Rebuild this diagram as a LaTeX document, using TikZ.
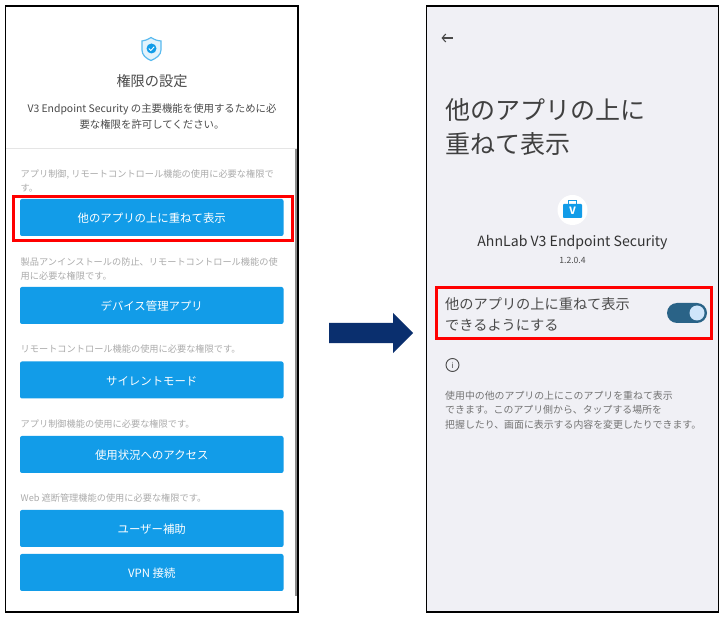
\documentclass[tikz,border=0pt]{standalone}
\usepackage{fontspec}
\setmainfont{Noto Sans CJK JP}
\usetikzlibrary{arrows.meta,shapes.arrows}
\definecolor{btn_blue}{HTML}{129CE8}
\definecolor{grey_text}{HTML}{ABABAB}
\definecolor{dark_text}{HTML}{4A4A4A}
\definecolor{panel_grey}{HTML}{F0F0F5}
\definecolor{navy_arrow}{HTML}{0A2F6E}
\definecolor{toggle_track}{HTML}{2A6387}
\definecolor{toggle_knob}{HTML}{CFE5FA}
\newcommand{\fsize}[1]{\fontsize{#1}{#1}\selectfont}

\begin{document}
\begin{tikzpicture}[x=1pt, y=-1pt]
    \tikzstyle{panel_style} = [draw=black, line width=1.1pt]
    \tikzstyle{red_box} = [draw=red, line width=3pt]
    \tikzstyle{btn_style} = [rectangle, rounded corners=2pt, fill=btn_blue, text=white, minimum width=263.5pt, minimum height=37pt, inner sep=0pt, text height=11pt, text depth=0.4pt, font=\fsize{11.4}]
    \tikzstyle{hint_style} = [anchor=west, inner sep=0pt, align=left, text=grey_text, font=\fontsize{9.2}{14}\selectfont]
    \tikzstyle{body_style} = [anchor=west, inner sep=0pt, align=left, text=dark_text]

    \useasboundingbox (0,0) rectangle (724,617);
    \fill[white] (0,0) rectangle (724,617);

    % left screen
    \fill[white] (5.5,6) rectangle (298,612);
    \draw[black!10, line width=0.7pt] (6,148) -- (297,148);
    \fill[black!45] (294.5,149) rectangle (297.5,596);
    \draw[panel_style] (5.5,6) rectangle (298,612);

    % shield
    \draw[fill=btn_blue!12, draw=btn_blue!70, line width=1.2pt] (151,37.5) .. controls (147,40) and (145,40.5) .. (142,41) -- (142,50) .. controls (142,55) and (146,58.5) .. (151,60.5) .. controls (156,58.5) and (161,55) .. (161,50) -- (161,41) .. controls (157,40.5) and (155,40) .. (151,37.5) -- cycle;
    \node[circle, fill=btn_blue, minimum size=10pt, inner sep=0pt] (shield_dot) at (151.5,48.5) {};
    \draw[white, line width=0.9pt] (148.8,48.5) -- (150.8,50.5) -- (154.2,46.8);

    \node[text=dark_text, inner sep=0pt, font=\fsize{14.2}] (title_left) at (152,81.5) {権限の設定};
    \node[text=dark_text, inner sep=0pt, align=center, font=\fontsize{10.4}{16}\selectfont] (intro) at (152,116.5) {V3 Endpoint Security の主要機能を使用するために必\\要な権限を許可してください。};

    \node[hint_style] (hint1) at (20.5,181) {アプリ制御, リモートコントロール機能の使用に必要な権限で\\す。};
    \node[btn_style] (btn1) at (151.75,217.5) {他のアプリの上に重ねて表示};
    \node[hint_style] (hint2) at (20.5,269) {製品アンインストールの防止、リモートコントロール機能の使\\用に必要な権限です。};
    \node[btn_style] (btn2) at (151.75,305.5) {デバイス管理アプリ};
    \node[hint_style] (hint3) at (20.5,349) {リモートコントロール機能の使用に必要な権限です。};
    \node[btn_style] (btn3) at (151.75,380) {サイレントモード};
    \node[hint_style] (hint4) at (20.5,424) {アプリ制御機能の使用に必要な権限です。};
    \node[btn_style] (btn4) at (151.75,454.5) {使用状況へのアクセス};
    \node[hint_style] (hint5) at (20.5,498) {Web 遮断管理機能の使用に必要な権限です。};
    \node[btn_style] (btn5) at (151.75,528.5) {ユーザー補助};
    \node[btn_style] (btn6) at (151.75,572.5) {VPN 接続};

    \draw[red_box] (13.5,197) rectangle (292,240.5);

    % arrow between the screens
    \node[single arrow, fill=navy_arrow, minimum height=84pt, inner xsep=0pt, inner ysep=10pt, single arrow head extend=10pt, single arrow tip angle=90, anchor=tail] (next_arrow) at (329,333) {};

    % right screen
    \fill[panel_grey] (426.5,6) rectangle (718.5,612);
    \draw[panel_style] (426.5,6) rectangle (718.5,612);

    \draw[dark_text, line width=1.1pt, -{Straight Barb[length=3.5pt, width=8pt]}] (452.5,38) -- (441.5,38);

    \node[body_style, font=\fontsize{25}{34}\selectfont, text=black!75] (title_right) at (445,127.5) {他のアプリの上に\\重ねて表示};

    \node[circle, fill=white, minimum size=30pt, inner sep=0pt] (app_disc) at (572.5,210) {};
    \fill[btn_blue, rounded corners=0.8pt] (563,204) rectangle (582,218);
    \draw[btn_blue, line width=1pt] (568.5,204) -- (568.5,201) -- (576.5,201) -- (576.5,204);
    \node[text=white, inner sep=0pt, font=\fsize{10}\bfseries\itshape] (app_mark) at (572.5,211) {V};

    \node[text=black!80, inner sep=0pt, font=\fsize{14.1}] (app_name) at (572.5,243) {AhnLab V3 Endpoint Security};
    \node[text=dark_text, inner sep=0pt, font=\fsize{8.6}] (app_version) at (572.5,260) {1.2.0.4};

    \node[body_style, font=\fontsize{14.2}{21}\selectfont] (toggle_label) at (445,314) {他のアプリの上に重ねて表示\\できるようにする};
    \node[rectangle, rounded corners=10pt, fill=toggle_track, minimum width=40pt, minimum height=20pt, inner sep=0pt] (toggle) at (687,313) {};
    \node[circle, fill=toggle_knob, minimum size=15pt, inner sep=0pt] (knob) at (697,313) {};
    \draw[red_box] (436,287.5) rectangle (711,339);

    \node[circle, draw=dark_text, line width=0.9pt, minimum size=13pt, inner sep=0pt, font=\fsize{8}, text=dark_text] (info) at (452.5,365) {i};
    \node[body_style, text=black!55, font=\fontsize{9.9}{14.7}\selectfont] (desc) at (445,410) {使用中の他のアプリの上にこのアプリを重ねて表示\\できます。このアプリ側から、タップする場所を\\把握したり、画面に表示する内容を変更したりできます。};
\end{tikzpicture}
\end{document}
